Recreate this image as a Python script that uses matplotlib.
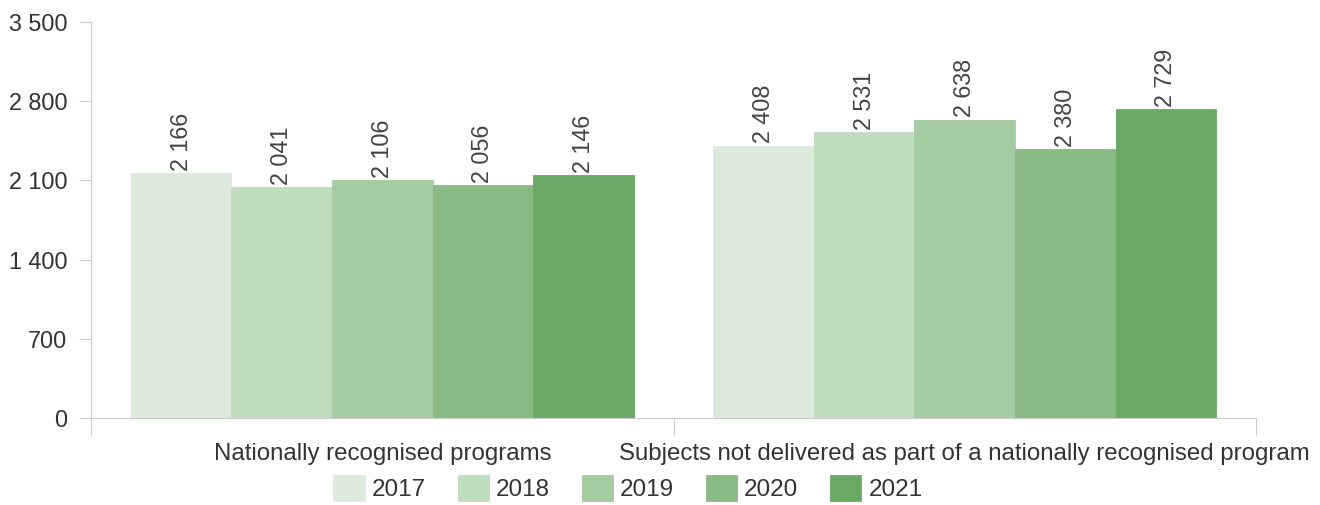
import matplotlib
matplotlib.use("Agg")
import matplotlib.pyplot as plt
import numpy as np

categories = ["Nationally recognised programs",
              "Subjects not delivered as part of a nationally recognised program"]
years = ["2017", "2018", "2019", "2020", "2021"]
values = {
    "2017": [2166, 2408],
    "2018": [2041, 2531],
    "2019": [2106, 2638],
    "2020": [2056, 2380],
    "2021": [2146, 2729],
}
colors = ["#dceadb", "#c0dcbf", "#a5cba2", "#89ba84", "#6aa866"]
yticks = [0, 700, 1400, 2100, 2800, 3500]
ytick_labels = ["0", "700", "1 400", "2 100", "2 800", "3 500"]

plt.rcParams['font.family'] = ['Liberation Sans', 'DejaVu Sans']
W, H = 1320, 505
fig = plt.figure(figsize=(W / 100, H / 100), dpi=100)
ax = fig.add_axes([91 / W, 1 - 418 / H, (1256 - 91) / W, (418 - 22) / H])

n = len(years)
group_w = 503 / 583
bw = group_w / n
x = np.arange(len(categories))
for i, (yr, c) in enumerate(zip(years, colors)):
    pos = x - group_w / 2 + bw * (i + 0.5)
    bars = ax.bar(pos, values[yr], width=bw, color=c, edgecolor=c, linewidth=0.6, label=yr, zorder=2)
    for b, v in zip(bars, values[yr]):
        s = f"{v:,}".replace(",", " ")
        ax.annotate(s, (b.get_x() + b.get_width() / 2, v), xytext=(0, 1.5),
                    textcoords="offset points", rotation=90, ha="center", va="bottom",
                    fontsize=16.8, color="#444444")

ax.set_xlim(-0.5, 1.5)
ax.set_ylim(0, 3500)
ax.set_yticks(yticks)
ax.set_yticklabels(ytick_labels, fontsize=16.8, color="#333333")
ax.set_xticks([-0.5, 0.5, 1.5])
ax.set_xticklabels([])
ax.tick_params(axis='y', length=9, color="#cccccc", pad=8)
ax.tick_params(axis='x', length=12, color="#cccccc", direction="out")
for s in ["top", "right"]:
    ax.spines[s].set_visible(False)
ax.spines["left"].set_color("#cccccc")
ax.spines["bottom"].set_color("#cccccc")
ax.spines["left"].set_bounds(0, 3500)

for xi, cat in zip(x, categories):
    ax.text(xi, -0.09, cat, transform=ax.get_xaxis_transform(), ha="center", va="center",
            fontsize=17.3, color="#333333")

handles, labels = ax.get_legend_handles_labels()
leg = fig.legend(handles, labels, loc="center", bbox_to_anchor=(628 / W, 1 - 488 / H), ncol=5,
                 frameon=False, fontsize=17.5, handlelength=1.28, handleheight=1.3,
                 handletextpad=0.3, columnspacing=1.3, labelcolor="#333333",
                 borderpad=0, borderaxespad=0)
fig.savefig("out.png", dpi=100)
